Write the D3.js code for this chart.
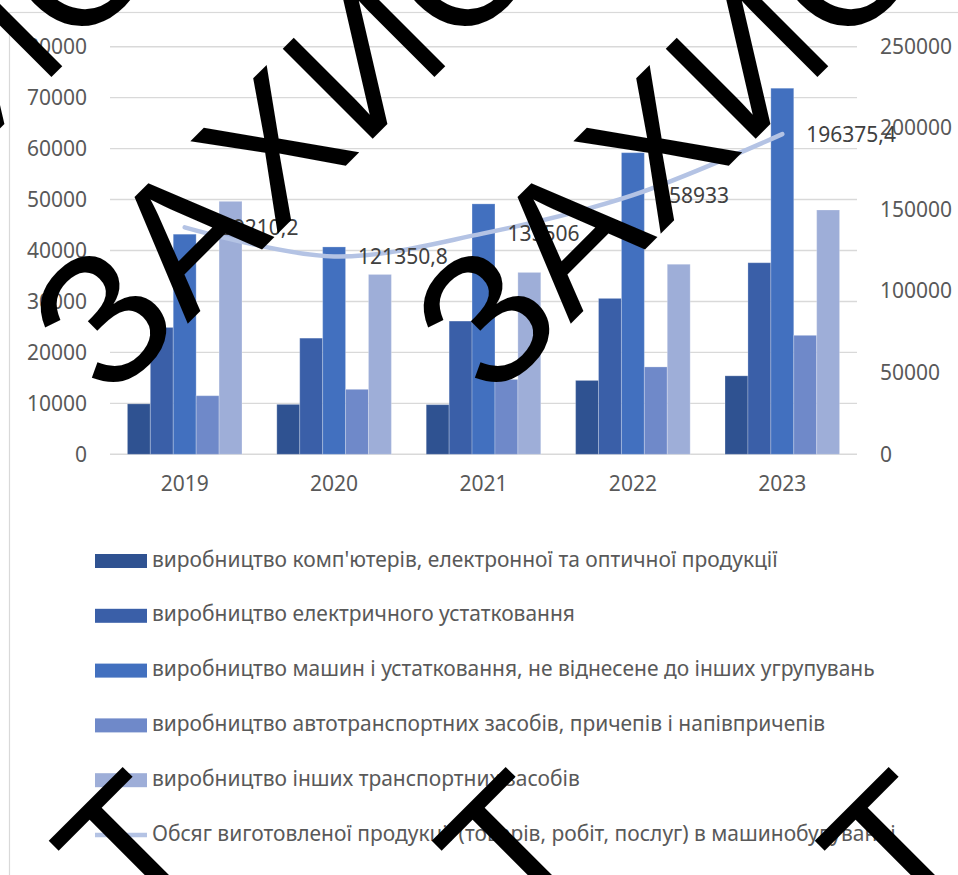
<!DOCTYPE html>
<html>
<head>
<meta charset="utf-8">
<script src="https://cdn.jsdelivr.net/npm/d3@7"></script>
<style>
  html, body { margin: 0; padding: 0; background: #ffffff; }
  svg { display: block; }
</style>
</head>
<body>
<svg id="chart" width="958" height="875"></svg>
<script>
// Categories (years)
const years = ["2019", "2020", "2021", "2022", "2023"];

// Bar series names (left axis)
const seriesNames = [
  "виробництво комп'ютерів, електронної та оптичної продукції",
  "виробництво електричного устатковання",
  "виробництво машин і устатковання, не віднесене до інших угрупувань",
  "виробництво автотранспортних засобів, причепів і напівпричепів",
  "виробництво інших транспортних засобів"
];

// Bar values by series
const computers  = [9900, 9800, 9750, 14500, 15400];
const electrical = [24900, 22800, 26150, 30600, 37600];
const machinery  = [43200, 40700, 49150, 59200, 71850];
const vehicles   = [11500, 12750, 14700, 17150, 23350];
const transport  = [49650, 35300, 35700, 37300, 47950];

// Line series (right axis)
const lineName = "Обсяг виготовленої продукції (товарів, робіт, послуг) в машинобудуванні";
const totalOutput = [139210.2, 121350.8, 135506, 158933, 196375.4];

// Axis ticks
const leftTicks = [0, 10000, 20000, 30000, 40000, 50000, 60000, 70000, 80000];
const rightTicks = [0, 50000, 100000, 150000, 200000, 250000];

// Watermark word
const watermark = "ЗАХИСТ";

const barSeries = [computers, electrical, machinery, vehicles, transport];
const barColors = ["#2f5291", "#3a5fa8", "#4270bf", "#6f89c9", "#9eaed8"];
const lineColor = "#b4c3e4";
const textColor = "#595959";
const numFont = "'Noto Sans', sans-serif";

const svg = d3.select("#chart");

// Outer chart frame
svg.append("rect")
  .attr("x", 9.5).attr("y", 12.5)
  .attr("width", 1200).attr("height", 1200)
  .attr("fill", "none").attr("stroke", "#d9d9d9").attr("stroke-width", 1.2);

const plot = { left: 110, right: 857, top: 46.7, bottom: 454.3 };

const x0 = d3.scaleBand().domain(years).range([plot.left, plot.right]).padding(0);
const yL = d3.scaleLinear().domain([0, 80000]).range([plot.bottom, plot.top]);
const yR = d3.scaleLinear().domain([0, 250000]).range([plot.bottom, plot.top]);

// Gridlines
svg.append("g").selectAll("line").data(leftTicks).join("line")
  .attr("x1", plot.left).attr("x2", plot.right)
  .attr("y1", d => yL(d)).attr("y2", d => yL(d))
  .attr("stroke", "#d9d9d9").attr("stroke-width", 1.4);

// Left axis
const leftAxis = svg.append("g")
  .attr("transform", `translate(${plot.left - 23},0)`)
  .call(d3.axisLeft(yL).tickValues(leftTicks).tickSize(0).tickPadding(0).tickFormat(d3.format("d")));
leftAxis.select(".domain").remove();
leftAxis.selectAll("text")
  .attr("fill", textColor).style("font-family", numFont).style("font-size", "21px");

// Right axis
const rightAxis = svg.append("g")
  .attr("transform", `translate(${plot.right + 23},0)`)
  .call(d3.axisRight(yR).tickValues(rightTicks).tickSize(0).tickPadding(0).tickFormat(d3.format("d")));
rightAxis.select(".domain").remove();
rightAxis.selectAll("text")
  .attr("fill", textColor).style("font-family", numFont).style("font-size", "21px");

// Category axis
const bottomAxis = svg.append("g")
  .attr("transform", `translate(0,${plot.bottom + 22})`)
  .call(d3.axisBottom(x0).tickSize(0).tickPadding(0));
bottomAxis.select(".domain").remove();
bottomAxis.selectAll("text")
  .attr("fill", textColor).attr("dy", "0.71em")
  .style("font-family", numFont).style("font-size", "21px");

// Clustered bars
const barW = x0.bandwidth() / 6.52;
const x1 = d3.scaleBand().domain(d3.range(barSeries.length))
  .range([0, barW * barSeries.length]).padding(0);

const groups = svg.append("g").selectAll("g").data(years).join("g")
  .attr("transform", d => `translate(${x0(d) + x0.bandwidth() / 2 - barW * barSeries.length / 2},0)`);

groups.selectAll("rect")
  .data((d, i) => barSeries.map((s, k) => ({ k, v: s[i] })))
  .join("rect")
  .attr("x", d => x1(d.k))
  .attr("width", x1.bandwidth())
  .attr("y", d => yL(d.v))
  .attr("height", d => yL(0) - yL(d.v))
  .attr("fill", d => barColors[d.k])
  .attr("stroke", "rgba(255,255,255,0.25)")
  .attr("stroke-width", 1);

// Smoothed line on the right axis
const cx = d => x0(d) + x0.bandwidth() / 2;
const linePts = years.map((y, i) => [cx(y), yR(totalOutput[i])]);
svg.append("path")
  .attr("d", d3.line().curve(d3.curveCatmullRom.alpha(0.5))(linePts))
  .attr("fill", "none").attr("stroke", lineColor)
  .attr("stroke-width", 4.5).attr("stroke-linecap", "round").attr("stroke-linejoin", "round");

// Data labels for the line
const fmt = v => String(v).replace(".", ",");
svg.append("g").selectAll("text").data(linePts).join("text")
  .attr("x", d => d[0] + 24)
  .attr("y", d => d[1] + 2)
  .attr("dominant-baseline", "middle")
  .attr("fill", "#404040")
  .style("font-family", numFont).style("font-size", "21px")
  .text((d, i) => fmt(totalOutput[i]));

// Legend
const legendItems = seriesNames.map((n, k) => ({ name: n, color: barColors[k], type: "bar" }))
  .concat([{ name: lineName, color: lineColor, type: "line" }]);
const legend = svg.append("g");
const rowY = d3.scaleLinear().domain([0, 5]).range([561, 835]);
const items = legend.selectAll("g").data(legendItems).join("g")
  .attr("transform", (d, i) => `translate(0,${rowY(i)})`);
items.filter(d => d.type === "bar").append("rect")
  .attr("x", 95).attr("y", -7).attr("width", 52).attr("height", 14)
  .attr("fill", d => d.color);
items.filter(d => d.type === "line").append("line")
  .attr("x1", 95).attr("x2", 147).attr("y1", 0).attr("y2", 0)
  .attr("stroke", d => d.color).attr("stroke-width", 4.5);
const legendTexts = items.append("text")
  .attr("x", 152).attr("y", 0).attr("dominant-baseline", "middle")
  .attr("fill", textColor)
  .style("font-family", numFont).style("font-size", "20px")
  .text(d => d.name);
// Fit the legend font so the first entry spans its intended width
const firstLen = legendTexts.node().getComputedTextLength();
const legendSize = 20 * 626 / firstLen;
legendTexts.style("font-size", legendSize + "px");

// Diagonal watermark, two staggered rows of three words
const wmCols = [-1, 0, 1];
const wmRows = [0, 1];
const wmStep = 383, wmRowDx = -45, wmRowDy = 986;
const wm = svg.append("g").attr("pointer-events", "none");
wmRows.forEach(r => {
  wmCols.forEach(c => {
    const px = 108.5 + c * wmStep + r * wmRowDx;
    const py = 403 + r * wmRowDy;
    const t = wm.append("text")
      .attr("transform", `translate(${px},${py}) rotate(-45)`)
      .attr("fill", "#000000")
      .style("font-family", "'Liberation Sans', Arial, sans-serif")
      .style("font-size", "185px");
    t.append("tspan").text(watermark.slice(0, -1));
    t.append("tspan").attr("dx", 25).text(watermark.slice(-1));
  });
});
</script>
</body>
</html>
